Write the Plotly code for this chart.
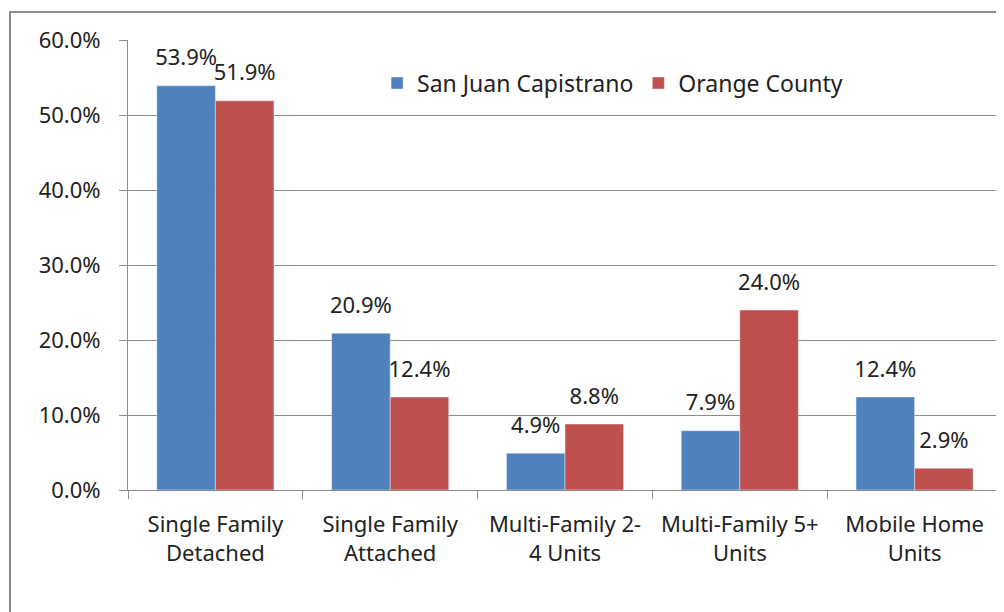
import plotly.graph_objects as go

categories = ["Single Family<br>Detached", "Single Family<br>Attached", "Multi-Family 2-<br>4 Units",
              "Multi-Family 5+<br>Units", "Mobile Home<br>Units"]
sjc = [53.9, 20.9, 4.9, 7.9, 12.4]
oc = [51.9, 12.4, 8.8, 24.0, 2.9]
y_ticks = [0, 10, 20, 30, 40, 50, 60]

font = "Noto Sans"


def labels(vals):
    # big label on a small base font, with an empty short line under it to lift it off the bar
    return [f"<span style='font-size:22px'>{v:.1f}%</span><br> " for v in vals]


fig = go.Figure()
fig.add_trace(go.Bar(x=categories, y=sjc, name="San Juan Capistrano", marker_color="#4F81BD",
                     text=labels(sjc), textposition="outside", cliponaxis=False,
                     constraintext="none", textfont=dict(size=11, color="#222")))
fig.add_trace(go.Bar(x=categories, y=oc, name="Orange County", marker_color="#C0504D",
                     text=labels(oc), textposition="outside", cliponaxis=False,
                     constraintext="none", textfont=dict(size=11, color="#222")))

# page body has an 8px margin, so the figure is offset by that amount
fig.update_layout(
    width=996, height=604,
    margin=dict(l=120, r=2, t=32, b=122),
    paper_bgcolor="white", plot_bgcolor="white",
    font=dict(family=font, size=22, color="#222"),
    barmode="group", bargap=0.33, bargroupgap=0,
    showlegend=True,
    legend=dict(orientation="h", x=0.285, y=0.952, xanchor="left", yanchor="top",
                font=dict(size=23), bgcolor="rgba(0,0,0,0)", itemwidth=30),
    shapes=[dict(type="rect", xref="paper", yref="paper", x0=-0.135, x1=1.05, y0=-0.4, y1=1.062,
                 line=dict(color="#8c8c8c", width=2), layer="below")],
)
fig.update_yaxes(range=[0, 60], tickvals=y_ticks, ticktext=[f"{v:.1f}%" for v in y_ticks],
                 showgrid=True, gridcolor="#8c8c8c", gridwidth=1,
                 showline=True, linecolor="#8c8c8c", linewidth=1,
                 ticks="outside", ticklen=8, tickcolor="#8c8c8c", zeroline=False,
                 ticklabelstandoff=14)
fig.update_xaxes(showline=True, linecolor="#8c8c8c", linewidth=1,
                 ticks="outside", ticklen=8, tickcolor="#8c8c8c", tickson="boundaries",
                 ticklabelstandoff=15)

fig.write_html("out.html")
